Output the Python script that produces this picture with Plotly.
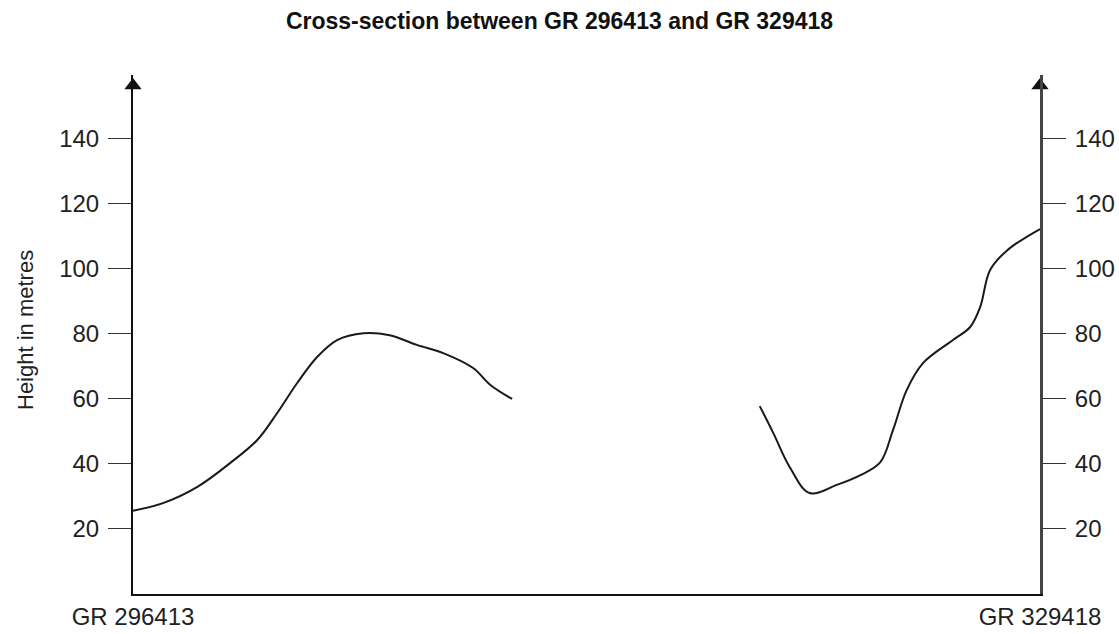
import plotly.graph_objects as go

# Distance along section (% of the way from GR 296413 to GR 329418) and height (m)
west_dist = [0.0, 3.3, 7.1, 10.7, 13.7, 15.9, 18.1, 20.3, 22.5, 25.4, 28.3, 31.3, 34.2, 37.5, 39.4, 41.8]
west_height = [25.6, 27.9, 32.9, 40.2, 47.3, 55.6, 64.8, 72.8, 78.0, 80.1, 79.5, 76.5, 74.0, 69.4, 64.2, 59.9]

east_dist = [69.1, 70.6, 72.4, 74.6, 77.6, 80.2, 82.4, 83.8, 85.3, 87.1, 90.4, 92.3, 93.4, 94.5, 96.4, 100.0]
east_height = [57.7, 49.4, 39.0, 31.0, 33.5, 36.5, 40.5, 50.4, 62.6, 70.9, 78.0, 82.0, 88.1, 99.5, 105.6, 112.1]

y_ticks = [20, 40, 60, 80, 100, 120, 140]
x_tickvals = [0, 100]
x_ticktext = ["GR 296413", "GR 329418"]
title_text = "Cross-section between GR 296413 and GR 329418"

Y_MAX = 159.4
FONT = "Liberation Sans, Arial, sans-serif"

fig = go.Figure()
line_style = dict(color="#1a1a1a", width=2, shape="spline", smoothing=1.0)
fig.add_trace(go.Scatter(x=west_dist, y=west_height, mode="lines", line=line_style,
                         showlegend=False, hoverinfo="skip"))
fig.add_trace(go.Scatter(x=east_dist, y=east_height, mode="lines", line=line_style,
                         showlegend=False, hoverinfo="skip"))
# arrowheads on top of both vertical axes
fig.add_trace(go.Scatter(x=[0, 100], y=[156.2, 156.2], mode="markers",
                         marker=dict(symbol="triangle-up", size=15, color="#111"),
                         cliponaxis=False, showlegend=False, hoverinfo="skip"))
# invisible trace for right axis
fig.add_trace(go.Scatter(x=[0], y=[0], yaxis="y2", mode="markers",
                         marker=dict(opacity=0), showlegend=False, hoverinfo="skip"))

fig.update_layout(
    width=1119, height=634,
    margin=dict(l=133, r=79, t=75, b=40, autoexpand=False),
    paper_bgcolor="white", plot_bgcolor="white",
    font=dict(family=FONT, size=24, color="#222"),
    title=dict(text="<b>" + title_text + "</b>", x=0.5, xanchor="center",
               y=1 - 21 / 634, yanchor="middle", automargin=False,
               font=dict(family=FONT, size=23, color="#111")),
    xaxis=dict(range=[0, 100], showgrid=False, zeroline=False, showline=True,
               linecolor="#111", linewidth=2, tickvals=x_tickvals, ticktext=x_ticktext,
               ticks="", tickfont=dict(size=24), automargin=False),
    yaxis=dict(range=[0, Y_MAX], showgrid=False, zeroline=False, showline=True,
               linecolor="#111", linewidth=2, tickvals=y_ticks, ticks="outside",
               ticklen=23, tickcolor="#333", tickwidth=1, ticklabelstandoff=4,
               automargin=False),
    yaxis2=dict(range=[0, Y_MAX], overlaying="y", side="right", showgrid=False,
                zeroline=False, showline=True, linecolor="#444", linewidth=3,
                tickvals=y_ticks, ticks="outside", ticklen=23, tickcolor="#333",
                tickwidth=1, ticklabelstandoff=4, automargin=False),
    annotations=[dict(text="Height in metres", textangle=-90, xref="paper", yref="paper",
                      x=(25 - 133) / 907, y=(594 - 330) / 519, showarrow=False,
                      xanchor="center", yanchor="middle", font=dict(size=22, color="#222"))],
)

fig.write_html("out.html", config={"displayModeBar": False},
               post_script="document.body.style.margin='0';")
